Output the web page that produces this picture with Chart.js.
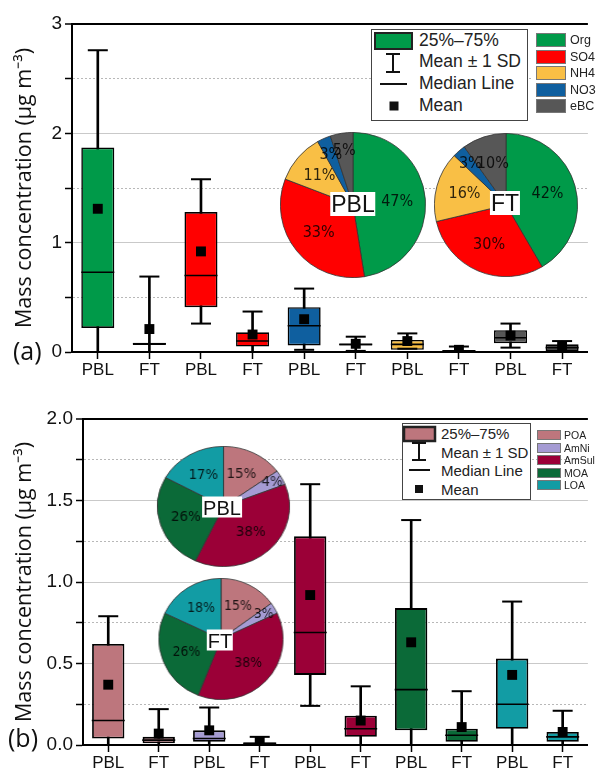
<!DOCTYPE html>
<html><head><meta charset="utf-8">
<script src="https://cdn.jsdelivr.net/npm/chart.js@4"></script>
<style>
html,body{margin:0;padding:0;background:#fff;}
body{width:606px;height:774px;position:relative;overflow:hidden;font-family:"Liberation Sans",Arial,sans-serif;color:#222;}
.abs{position:absolute;}
canvas{display:block;}
.lgbox{position:absolute;background:#fff;border:1px solid #444;box-sizing:border-box;}
.t{position:absolute;white-space:nowrap;transform:translateY(-50%);line-height:1;}
.sw{position:absolute;box-sizing:border-box;border:1px solid #777;}
.plabel{position:absolute;background:#fff;line-height:1;white-space:nowrap;transform:translate(-50%,-50%);padding:1px 1px 0 1px;font-family:"Liberation Sans",Arial,sans-serif;color:#111;}
.panel{position:absolute;font-family:"Open Sans","Liberation Sans",sans-serif;line-height:1;transform:translateY(-50%);color:#111;}
</style></head><body>

<canvas id="cA" class="abs" width="606" height="380" style="left:0;top:0"></canvas>
<canvas id="cB" class="abs" width="606" height="394" style="left:0;top:380px"></canvas>

<div class="abs" style="left:280px;top:132px;width:146px;height:146px;"><canvas id="pA1" width="146" height="146"></canvas></div>
<div class="abs" style="left:434px;top:133px;width:144px;height:144px;"><canvas id="pA2" width="144" height="144"></canvas></div>
<div class="abs" style="left:163px;top:446px;width:121px;height:121px;transform:scaleX(1.1);transform-origin:50% 50%;"><canvas id="pB1" width="121" height="121"></canvas></div>
<div class="abs" style="left:160px;top:578px;width:122px;height:122px;transform:scaleX(1.025);transform-origin:50% 50%;"><canvas id="pB2" width="122" height="122"></canvas></div>

<div class="plabel" style="left:353px;top:204px;font-size:23px;">PBL</div>
<div class="plabel" style="left:505px;top:203px;font-size:23px;">FT</div>
<div class="plabel" style="left:222px;top:507px;font-size:20px;">PBL</div>
<div class="plabel" style="left:220px;top:640px;font-size:20px;">FT</div>

<!-- legend panel a -->
<div class="lgbox" style="left:371px;top:29px;width:157px;height:92px;"></div>
<svg class="abs" style="left:0;top:0" width="606" height="380">
  <rect id="swA" x="375" y="33" width="37" height="16" stroke="#222" stroke-width="2"/>
  <line x1="393" y1="54" x2="393" y2="72" stroke="#111" stroke-width="2"/>
  <line x1="386" y1="54" x2="400" y2="54" stroke="#111" stroke-width="2"/>
  <line x1="386" y1="72" x2="400" y2="72" stroke="#111" stroke-width="2"/>
  <line x1="380" y1="84" x2="407" y2="84" stroke="#111" stroke-width="2"/>
  <rect x="389.5" y="101.5" width="9" height="9" fill="#111"/>
</svg>
<div class="t" style="left:419px;top:41px;font-size:17.5px;">25%–75%</div>
<div class="t" style="left:419px;top:62px;font-size:17.5px;">Mean ± 1 SD</div>
<div class="t" style="left:419px;top:84px;font-size:17.5px;">Median Line</div>
<div class="t" style="left:419px;top:106px;font-size:17.5px;">Mean</div>
<div class="abs" style="left:531px;top:30px;width:75px;height:86px;background:#fff;"></div>
<div id="catA"></div>

<!-- legend panel b -->
<div class="lgbox" style="left:402px;top:423px;width:129px;height:77px;"></div>
<svg class="abs" style="left:0;top:0" width="606" height="774">
  <rect id="swB" x="404" y="427" width="31" height="14" stroke="#222" stroke-width="2.5"/>
  <line x1="419" y1="442" x2="419" y2="460" stroke="#111" stroke-width="2"/>
  <line x1="412" y1="443" x2="426" y2="443" stroke="#111" stroke-width="2"/>
  <line x1="412" y1="460" x2="426" y2="460" stroke="#111" stroke-width="2"/>
  <line x1="409" y1="470" x2="430" y2="470" stroke="#111" stroke-width="2"/>
  <rect x="415" y="485" width="8" height="8" fill="#111"/>
</svg>
<div class="t" style="left:441px;top:433px;font-size:15px;">25%–75%</div>
<div class="t" style="left:441px;top:452px;font-size:15px;">Mean ± 1 SD</div>
<div class="t" style="left:441px;top:470px;font-size:15px;">Median Line</div>
<div class="t" style="left:441px;top:489px;font-size:15px;">Mean</div>
<div id="catB"></div>

<div class="panel" style="left:13px;top:350px;font-size:25px;">(a)</div>
<div class="panel" style="left:8px;top:737px;font-size:25px;">(b)</div>

<script>
// ---------------- DATA: panel (a) ----------------
const A_LABELS = ['PBL','FT','PBL','FT','PBL','FT','PBL','FT','PBL','FT'];
const A_SPECIES = ['Org','Org','SO4','SO4','NO3','NO3','NH4','NH4','eBC','eBC'];
const A_Q1     = [0.22, 0.065, 0.41, 0.05, 0.06, 0.06, 0.02, 0.005, 0.08, 0.01];
const A_Q3     = [1.87, 0.085, 1.28, 0.18, 0.41, 0.075, 0.11, 0.015, 0.20, 0.07];
const A_MEDIAN = [0.73, 0.075, 0.70, 0.10, 0.24, 0.07, 0.07, 0.01, 0.13, 0.04];
const A_MEAN   = [1.31, 0.21, 0.92, 0.16, 0.30, 0.075, 0.10, 0.02, 0.15, 0.05];
const A_SD     = [1.45, 0.48, 0.66, 0.21, 0.28, 0.065, 0.07, 0.03, 0.11, 0.05];
const A_Y_MIN = 0, A_Y_MAX = 3, A_Y_STEP = 0.5;
const A_PIE_SPECIES = ['Org','SO4','NH4','NO3','eBC'];
const A_PIE_PBL = [47, 33, 11, 3, 5];
const A_PIE_FT  = [42, 30, 16, 3, 10];

// ---------------- DATA: panel (b) ----------------
const B_LABELS = ['PBL','FT','PBL','FT','PBL','FT','PBL','FT','PBL','FT'];
const B_SPECIES = ['POA','POA','AmNi','AmNi','AmSul','AmSul','MOA','MOA','LOA','LOA'];
const B_Q1     = [0.04, 0.01, 0.02, 0.005, 0.43, 0.05, 0.09, 0.02, 0.10, 0.02];
const B_Q3     = [0.62, 0.05, 0.09, 0.015, 1.28, 0.18, 0.84, 0.10, 0.53, 0.08];
const B_MEDIAN = [0.15, 0.03, 0.04, 0.01, 0.69, 0.10, 0.34, 0.06, 0.25, 0.05];
const B_MEAN   = [0.37, 0.07, 0.09, 0.02, 0.92, 0.15, 0.63, 0.11, 0.43, 0.08];
const B_SD     = [0.42, 0.15, 0.14, 0.03, 0.68, 0.21, 0.75, 0.22, 0.45, 0.13];
const B_Y_MIN = 0, B_Y_MAX = 2, B_Y_STEP = 0.25;
const B_PIE_SPECIES = ['POA','AmNi','AmSul','MOA','LOA'];
const B_PIE_PBL = [15, 4, 38, 26, 17];
const B_PIE_FT  = [15, 3, 38, 26, 18];

// ---------------- STYLES ----------------
const COLORS = {
  Org:'#009a49', SO4:'#ff0000', NH4:'#f9bf45', NO3:'#0f5f9f', eBC:'#575757',
  POA:'#bd767d', AmNi:'#a59bd3', AmSul:'#9b0037', MOA:'#0b6a38', LOA:'#129ca4'
};
const Y_TITLE = 'Mass concentration (μg m⁻³)';

document.getElementById('swA').setAttribute('fill', COLORS.Org);
document.getElementById('swB').setAttribute('fill', COLORS.POA);

function catLegend(el, species, x, y0, dy, w, h, tx, fs) {
  let html = '';
  species.forEach((s, i) => {
    const y = y0 + i * dy;
    html += `<div class="sw" style="left:${x}px;top:${y}px;width:${w}px;height:${h}px;background:${COLORS[s]};"></div>`;
    html += `<div class="t" style="left:${tx}px;top:${y + h/2}px;font-size:${fs}px;">${s}</div>`;
  });
  document.getElementById(el).innerHTML = html;
}
catLegend('catA', A_PIE_SPECIES, 536, 33, 16.5, 30, 14, 570, 12.5);
catLegend('catB', B_PIE_SPECIES, 537, 430, 12.6, 24, 10, 564, 10.5);

Chart.defaults.font.family = '"Liberation Sans", Arial, sans-serif';
Chart.defaults.color = '#111';

function boxChart(id, labels, species, q1, q3, med, mean, sd, ymin, ymax, step, isMajor, fmt, yWidth, xHeight, padTop, boxBorder) {
  const hi = mean.map((m, i) => m + sd[i]);
  const lo = mean.map((m, i) => m - sd[i]);
  const pt = (data, style, r, bw, order, fill) => ({
    type: 'line', data, showLine: false, order,
    pointStyle: style, pointRadius: r, pointHoverRadius: r, pointBorderWidth: bw,
    pointBorderColor: '#000', pointBackgroundColor: fill || '#000'
  });
  return new Chart(document.getElementById(id), {
    type: 'bar',
    data: {
      labels,
      datasets: [
        { type: 'bar', data: lo.map((l, i) => [l, hi[i]]), backgroundColor: '#000', barThickness: 2, grouped: false, order: 6 },
        { type: 'bar', data: q1.map((q, i) => [q, q3[i]]), backgroundColor: species.map(s => COLORS[s]),
          borderColor: '#000', borderWidth: boxBorder, borderSkipped: false, barPercentage: 0.64, categoryPercentage: 1, grouped: false, order: 5 },
        pt(med, 'line', 16.5, 1.6, 4),
        pt(hi, 'line', 10, 2, 3),
        pt(lo, 'line', 10, 2, 3),
        pt(mean, 'rect', 7, 0, 1)
      ]
    },
    options: {
      responsive: false, animation: false, events: [], devicePixelRatio: 1,
      layout: { padding: { top: padTop, left: 0, right: 0, bottom: 0 } },
      plugins: { legend: { display: false }, tooltip: { enabled: false } },
      scales: {
        x: {
          offset: true,
          afterFit: s => { s.height = xHeight; },
          grid: { display: true, drawOnChartArea: false, drawTicks: true, offset: false, tickLength: 7, tickColor: '#000', tickWidth: 1.5 },
          border: { display: true, color: '#000', width: 2 },
          ticks: { font: { size: 17 }, color: '#111', padding: 1, maxRotation: 0, autoSkip: false }
        },
        y: {
          min: ymin, max: ymax,
          afterFit: s => { s.width = yWidth; },
          ticks: { stepSize: step, autoSkip: false, font: { size: 19 }, color: '#111', padding: 3,
                   callback: v => isMajor(v) ? fmt(v) : '' },
          grid: {
            color: c => { if (!c.tick) return '#ccc'; const v = c.tick.value; if (Math.abs(v - ymax) < 1e-9) return '#000'; return isMajor(v) ? '#c9c9c9' : '#b8b8b8'; },
            lineWidth: c => (c.tick && Math.abs(c.tick.value - ymax) < 1e-9) ? 2 : 1,
            tickColor: '#000', tickLength: 7, tickWidth: 1.5, tickBorderDash: []
          },
          border: { display: true, color: '#000', width: 2,
                    dash: c => (c.tick && !isMajor(c.tick.value)) ? [2, 2] : [] },
          title: { display: true, text: Y_TITLE, font: { family: '"Open Sans","Liberation Sans",sans-serif', size: 21.5 }, color: '#111', padding: { top: 12, bottom: 0 } }
        }
      }
    }
  });
}

boxChart('cA', A_LABELS, A_SPECIES, A_Q1, A_Q3, A_MEDIAN, A_MEAN, A_SD, A_Y_MIN, A_Y_MAX, A_Y_STEP,
  v => Math.abs(v - Math.round(v)) < 1e-9, v => String(Math.round(v)), 72, 28, 24, 1.6);
boxChart('cB', B_LABELS, B_SPECIES, B_Q1, B_Q3, B_MEDIAN, B_MEAN, B_SD, B_Y_MIN, B_Y_MAX, B_Y_STEP,
  v => Math.abs(v * 2 - Math.round(v * 2)) < 1e-9, v => v.toFixed(1), 83, 29, 39, 1.8);

const pieLabels = {
  id: 'pieLabels',
  afterDatasetsDraw(chart, args, opts) {
    const ctx = chart.ctx, meta = chart.getDatasetMeta(0), data = chart.data.datasets[0].data;
    ctx.save();
    ctx.font = opts.font; ctx.fillStyle = opts.color; ctx.textAlign = 'center'; ctx.textBaseline = 'middle';
    meta.data.forEach((arc, i) => {
      const p = arc.getProps(['x', 'y', 'startAngle', 'endAngle', 'outerRadius'], true);
      const mid = (p.startAngle + p.endAngle) / 2;
      const f = data[i] < 6 ? opts.smallR : opts.r;
      ctx.fillText(data[i] + '%', p.x + Math.cos(mid) * p.outerRadius * f, p.y + Math.sin(mid) * p.outerRadius * f);
    });
    ctx.restore();
  }
};

function pie(id, species, values, font, r, smallR) {
  return new Chart(document.getElementById(id), {
    type: 'pie',
    data: { labels: species, datasets: [{ data: values, backgroundColor: species.map(s => COLORS[s]), borderColor: '#333', borderWidth: 0.8 }] },
    options: {
      responsive: false, animation: false, events: [], devicePixelRatio: 1,
      layout: { padding: 0 },
      plugins: { legend: { display: false }, tooltip: { enabled: false },
                 pieLabels: { font, color: 'rgba(0,0,0,0.82)', r, smallR } }
    },
    plugins: [pieLabels]
  });
}
const PIE_FONT_A = '16px "Liberation Sans Narrow", "DejaVu Sans Condensed", sans-serif';
const PIE_FONT_B = '13.5px "Liberation Sans Narrow", "DejaVu Sans Condensed", sans-serif';
pie('pA1', A_PIE_SPECIES, A_PIE_PBL, PIE_FONT_A, 0.61, 0.76);
pie('pA2', A_PIE_SPECIES, A_PIE_FT, PIE_FONT_A, 0.6, 0.76);
pie('pB1', B_PIE_SPECIES, B_PIE_PBL, PIE_FONT_B, 0.6, 0.84);
pie('pB2', B_PIE_SPECIES, B_PIE_FT, PIE_FONT_B, 0.6, 0.8);
</script>
</body></html>
